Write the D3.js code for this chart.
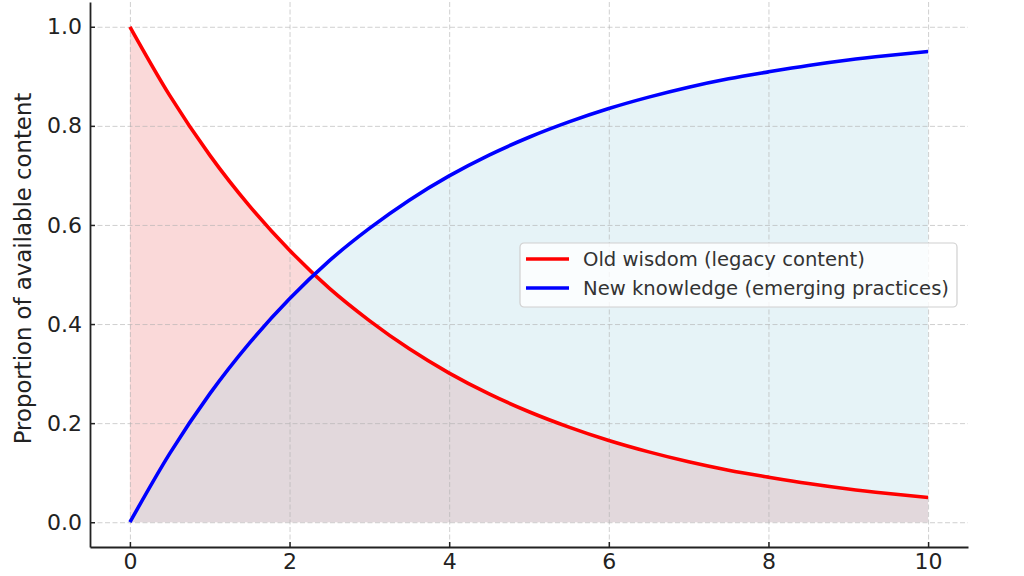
<!DOCTYPE html>
<html>
<head>
<meta charset="utf-8">
<script src="https://cdn.jsdelivr.net/npm/d3@7"></script>
<style>
  body { margin: 0; background: #fff; }
  svg { display: block; font-family: "DejaVu Sans", sans-serif; }
</style>
</head>
<body>
<div id="chart"></div>
<script>
// DATA
var years = [0, 0.5, 1, 1.5, 2, 2.5, 3, 3.5, 4, 4.5, 5, 5.5, 6, 6.5, 7, 7.5, 8, 8.5, 9, 9.5, 10];
var oldWisdom = [1.000, 0.861, 0.741, 0.638, 0.549, 0.472, 0.407, 0.350, 0.301, 0.259, 0.223,
                 0.192, 0.165, 0.142, 0.122, 0.105, 0.091, 0.078, 0.067, 0.058, 0.050];
var newKnowledge = [0.000, 0.139, 0.259, 0.362, 0.451, 0.528, 0.593, 0.650, 0.699, 0.741, 0.777,
                    0.808, 0.835, 0.858, 0.878, 0.895, 0.909, 0.922, 0.933, 0.942, 0.950];
var xTicks = [0, 2, 4, 6, 8, 10];
var yTicks = [0, 0.2, 0.4, 0.6, 0.8, 1.0];
var seriesNames = ['Old wisdom (legacy content)', 'New knowledge (emerging practices)'];

// BOUNDS
var width = 1024, height = 576;
var margin = {top: 2, right: 56, bottom: 29, left: 90},
	innerWidth = width - margin.left - margin.right,
	innerHeight = height - margin.top - margin.bottom;

// SCALE
var xScale = d3.scaleLinear().domain([-0.5, 10.5]).range([0, innerWidth]);
var yScale = d3.scaleLinear().domain([-0.05, 1.05]).range([innerHeight, 0]);

var svg = d3.select('#chart')
	.append('svg')
	.attr('width', width)
	.attr('height', height);

var chart = svg.append('g')
	.attr('transform', 'translate(' + margin.left + ',' + margin.top + ')');

var rows = years.map(function(x, i) {
	return {x: x, old: oldWisdom[i], nw: newKnowledge[i]};
});

// fills
var areaOld = d3.area()
	.x(function(d) { return xScale(d.x); })
	.y0(yScale(0))
	.y1(function(d) { return yScale(d.old); })
	.curve(d3.curveMonotoneX);
var areaNew = d3.area()
	.x(function(d) { return xScale(d.x); })
	.y0(yScale(0))
	.y1(function(d) { return yScale(d.nw); })
	.curve(d3.curveMonotoneX);

chart.append('path')
	.attr('d', areaOld(rows))
	.attr('fill', '#f08080')
	.attr('fill-opacity', 0.3);
chart.append('path')
	.attr('d', areaNew(rows))
	.attr('fill', '#add8e6')
	.attr('fill-opacity', 0.3);

// grid (above fills, below lines)
var gridX = chart.append('g')
	.attr('transform', 'translate(0,' + innerHeight + ')')
	.call(d3.axisBottom(xScale).tickValues(xTicks).tickSize(-innerHeight).tickFormat(''));
var gridY = chart.append('g')
	.call(d3.axisLeft(yScale).tickValues(yTicks).tickSize(-innerWidth).tickFormat(''));
[gridX, gridY].forEach(function(g) {
	g.select('.domain').remove();
	g.selectAll('text').remove();
	g.selectAll('line')
		.attr('stroke', '#b0b0b0')
		.attr('stroke-opacity', 0.6)
		.attr('stroke-width', 1)
		.attr('stroke-dasharray', '5,2.5');
});

// lines
var lineOld = d3.line()
	.x(function(d) { return xScale(d.x); })
	.y(function(d) { return yScale(d.old); })
	.curve(d3.curveMonotoneX);
var lineNew = d3.line()
	.x(function(d) { return xScale(d.x); })
	.y(function(d) { return yScale(d.nw); })
	.curve(d3.curveMonotoneX);

chart.append('path')
	.attr('d', lineOld(rows))
	.attr('fill', 'none')
	.attr('stroke', '#ff0000')
	.attr('stroke-width', 3.6);
chart.append('path')
	.attr('d', lineNew(rows))
	.attr('fill', 'none')
	.attr('stroke', '#0000ff')
	.attr('stroke-width', 3.6);

// AXIS (ticks point inward, only left + bottom spines)
var xAxis = chart.append('g')
	.attr('transform', 'translate(0,' + innerHeight + ')')
	.call(d3.axisBottom(xScale).tickValues(xTicks).tickSize(-5).tickPadding(6).tickSizeOuter(0)
		.tickFormat(d3.format('d')));
var yAxis = chart.append('g')
	.call(d3.axisLeft(yScale).tickValues(yTicks).tickSize(-5).tickPadding(8).tickSizeOuter(0)
		.tickFormat(d3.format('.1f')));
[xAxis, yAxis].forEach(function(g) {
	g.select('.domain').attr('stroke', '#222').attr('stroke-width', 1.8);
	g.selectAll('.tick line').attr('stroke', '#222').attr('stroke-width', 1.5);
	g.selectAll('.tick text')
		.attr('fill', '#222')
		.style('font-size', '22px')
		.style('font-family', '"DejaVu Sans", sans-serif');
});

// y label
svg.append('text')
	.attr('transform', 'translate(31,' + (margin.top + innerHeight / 2 - 6) + ') rotate(-90)')
	.attr('text-anchor', 'middle')
	.attr('fill', '#222')
	.style('font-size', '22.8px')
	.text('Proportion of available content');

// LEGEND
var legend = svg.append('g').attr('transform', 'translate(520,243)');
legend.append('rect')
	.attr('width', 437)
	.attr('height', 64)
	.attr('rx', 4)
	.attr('fill', '#fff')
	.attr('fill-opacity', 0.8)
	.attr('stroke', '#d0d0d0')
	.attr('stroke-width', 1.2);
var legendColors = ['#ff0000', '#0000ff'];
seriesNames.forEach(function(name, i) {
	var y = 16 + i * 29;
	legend.append('line')
		.attr('x1', 6).attr('x2', 49)
		.attr('y1', y).attr('y2', y)
		.attr('stroke', legendColors[i])
		.attr('stroke-width', 3.6);
	legend.append('text')
		.attr('x', 63)
		.attr('y', y)
		.attr('dy', '0.35em')
		.attr('fill', '#333')
		.style('font-size', '19.6px')
		.text(name);
});
</script>
</body>
</html>
